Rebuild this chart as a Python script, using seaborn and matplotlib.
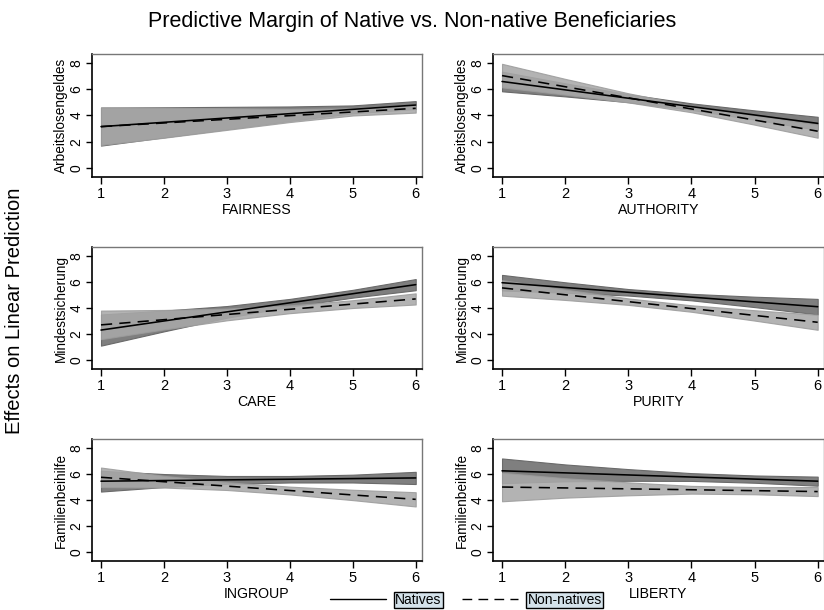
import numpy as np
import pandas as pd
import matplotlib
matplotlib.use('Agg')
import matplotlib.pyplot as plt
from matplotlib.lines import Line2D
import seaborn as sns

# ── Data ────────────────────────────────────────────────────────
x_vals = [1, 2, 3, 4, 5, 6]
panels = ['FAIRNESS', 'AUTHORITY', 'CARE', 'PURITY', 'INGROUP', 'LIBERTY']
outcomes = ['Arbeitslosengeldes', 'Arbeitslosengeldes',
            'Mindestsicherung', 'Mindestsicherung',
            'Familienbeihilfe', 'Familienbeihilfe']

# Natives: estimate, lower, upper
nat_fairness = [3.15, 3.48, 3.81, 4.14, 4.47, 4.80]
nat_fairness_lo = [1.70, 2.33, 2.96, 3.59, 4.17, 4.50]
nat_fairness_hi = [4.60, 4.63, 4.66, 4.69, 4.77, 5.10]
nat_authority = [6.60, 5.96, 5.32, 4.68, 4.04, 3.40]
nat_authority_lo = [5.85, 5.46, 5.02, 4.43, 3.69, 2.90]
nat_authority_hi = [7.35, 6.46, 5.62, 4.93, 4.39, 3.90]
nat_care = [2.30, 3.00, 3.70, 4.40, 5.10, 5.80]
nat_care_lo = [1.10, 2.20, 3.25, 4.10, 4.80, 5.37]
nat_care_hi = [3.50, 3.80, 4.15, 4.70, 5.40, 6.23]
nat_purity = [5.95, 5.58, 5.21, 4.84, 4.47, 4.10]
nat_purity_lo = [5.35, 5.18, 4.96, 4.59, 4.07, 3.50]
nat_purity_hi = [6.55, 5.98, 5.46, 5.09, 4.87, 4.70]
nat_ingroup = [5.45, 5.50, 5.55, 5.60, 5.65, 5.70]
nat_ingroup_lo = [4.65, 5.00, 5.25, 5.35, 5.35, 5.23]
nat_ingroup_hi = [6.25, 6.00, 5.85, 5.85, 5.95, 6.17]
nat_liberty = [6.25, 6.09, 5.93, 5.77, 5.61, 5.45]
nat_liberty_lo = [5.30, 5.44, 5.48, 5.47, 5.33, 5.10]
nat_liberty_hi = [7.20, 6.74, 6.38, 6.07, 5.89, 5.80]

# Non-natives: estimate, lower, upper
non_fairness = [3.15, 3.43, 3.71, 3.99, 4.27, 4.55]
non_fairness_lo = [1.75, 2.30, 2.90, 3.50, 4.00, 4.22]
non_fairness_hi = [4.62, 4.60, 4.55, 4.50, 4.55, 4.85]
non_authority = [7.05, 6.20, 5.35, 4.50, 3.65, 2.80]
non_authority_lo = [6.15, 5.60, 5.00, 4.25, 3.30, 2.30]
non_authority_hi = [7.95, 6.80, 5.70, 4.75, 4.00, 3.30]
non_care = [2.70, 3.10, 3.50, 3.90, 4.30, 4.70]
non_care_lo = [1.60, 2.35, 3.05, 3.60, 4.00, 4.27]
non_care_hi = [3.80, 3.85, 3.95, 4.20, 4.60, 5.13]
non_purity = [5.55, 5.02, 4.49, 3.96, 3.43, 2.90]
non_purity_lo = [4.95, 4.62, 4.24, 3.71, 3.03, 2.32]
non_purity_hi = [6.15, 5.42, 4.74, 4.21, 3.83, 3.48]
non_ingroup = [5.75, 5.41, 5.07, 4.73, 4.39, 4.05]
non_ingroup_lo = [5.00, 4.96, 4.77, 4.43, 3.99, 3.50]
non_ingroup_hi = [6.50, 5.86, 5.37, 5.03, 4.79, 4.60]
non_liberty = [5.00, 4.93, 4.86, 4.79, 4.72, 4.65]
non_liberty_lo = [3.90, 4.18, 4.36, 4.49, 4.44, 4.30]
non_liberty_hi = [6.10, 5.68, 5.36, 5.09, 5.00, 5.00]

natives = {
    'FAIRNESS': (nat_fairness, nat_fairness_lo, nat_fairness_hi),
    'AUTHORITY': (nat_authority, nat_authority_lo, nat_authority_hi),
    'CARE': (nat_care, nat_care_lo, nat_care_hi),
    'PURITY': (nat_purity, nat_purity_lo, nat_purity_hi),
    'INGROUP': (nat_ingroup, nat_ingroup_lo, nat_ingroup_hi),
    'LIBERTY': (nat_liberty, nat_liberty_lo, nat_liberty_hi),
}
nonnatives = {
    'FAIRNESS': (non_fairness, non_fairness_lo, non_fairness_hi),
    'AUTHORITY': (non_authority, non_authority_lo, non_authority_hi),
    'CARE': (non_care, non_care_lo, non_care_hi),
    'PURITY': (non_purity, non_purity_lo, non_purity_hi),
    'INGROUP': (non_ingroup, non_ingroup_lo, non_ingroup_hi),
    'LIBERTY': (non_liberty, non_liberty_lo, non_liberty_hi),
}

# ── Style ───────────────────────────────────────────────────────
sns.set_style('ticks')
plt.rcParams['font.family'] = ['Liberation Sans', 'DejaVu Sans']
plt.rcParams['text.color'] = 'black'
plt.rcParams['axes.labelcolor'] = 'black'
plt.rcParams['xtick.color'] = 'black'
plt.rcParams['ytick.color'] = 'black'

fig = plt.figure(figsize=(8.24, 6.10), dpi=100)
W, H = 824.0, 610.0

# axes boxes in pixel coords (left, top, right, bottom)
col_px = [(92, 422), (493, 824)]
row_px = [(54, 177), (247, 369), (439, 561)]

NAT_FILL = '#7f7f7f'
NON_FILL = '#a9a9a9'
DASH = (7, 4.5)

for i, panel in enumerate(panels):
    r, c = divmod(i, 2)
    l, rr = col_px[c]
    t, b = row_px[r]
    ax = fig.add_axes([l / W, 1 - b / H, (rr - l) / W, (b - t) / H])

    est_n, lo_n, hi_n = natives[panel]
    est_o, lo_o, hi_o = nonnatives[panel]

    ax.fill_between(x_vals, lo_n, hi_n, color=NAT_FILL,
                    edgecolor='#6a6a6a', lw=0.8, zorder=1)
    ax.fill_between(x_vals, lo_o, hi_o, color=NON_FILL, alpha=0.88,
                    edgecolor='#9c9c9c', lw=0.8, zorder=2)

    df = pd.DataFrame({
        'x': x_vals * 2,
        'y': list(est_n) + list(est_o),
        'group': ['Natives'] * 6 + ['Non-natives'] * 6,
    })
    sns.lineplot(data=df, x='x', y='y', style='group',
                 dashes={'Natives': '', 'Non-natives': DASH},
                 color='black', lw=1.15, legend=False, ax=ax, zorder=3)

    ax.set_xlim(0.857, 6.1)
    ax.set_ylim(-0.7, 8.7)
    ax.set_xticks(x_vals)
    ax.set_yticks([0, 2, 4, 6, 8])
    ax.tick_params(axis='x', direction='out', length=5, width=1,
                   labelsize=10.5, pad=2, color='black')
    ax.tick_params(axis='y', direction='out', length=4, width=1,
                   labelsize=10, pad=2, color='black')
    for lab in ax.get_yticklabels():
        lab.set_rotation(90)
        lab.set_va('center')

    ax.set_xlabel(panel, fontsize=10.2, labelpad=1.5)
    ax.set_ylabel(outcomes[i], fontsize=9.8, labelpad=1)

    for s in ['left', 'bottom']:
        ax.spines[s].set_color('black')
        ax.spines[s].set_linewidth(1.2)
    for s in ['top', 'right']:
        ax.spines[s].set_visible(True)
        ax.spines[s].set_color('#777777')
        ax.spines[s].set_linewidth(1.0)

fig.text(412 / W, 1 - 22 / H,
         'Predictive Margin of Native vs. Non-native Beneficiaries',
         ha='center', va='center', fontsize=15.5)
fig.text(15 / W, 1 - 311 / H, 'Effects on Linear Prediction',
         rotation=90, ha='center', va='center', fontsize=14.5)

# ── Legend (Stata-like, boxed labels) ───────────────────────────
handles = [Line2D([0], [0], color='black', lw=1.0),
           Line2D([0], [0], color='black', lw=1.0, dashes=DASH)]
leg = fig.legend(handles, ['Natives', 'Non-natives'], ncol=2,
                 loc='center', bbox_to_anchor=(466 / W, 1 - 600 / H),
                 frameon=False, fontsize=10, handlelength=4.0,
                 handletextpad=0.7, columnspacing=1.5,
                 borderpad=0.0, borderaxespad=0.0)
for txt in leg.get_texts():
    txt.set_bbox(dict(facecolor='#d4e2ea', edgecolor='black',
                      lw=1.0, pad=1.0))

plt.savefig('out.png', dpi=100)
plt.close()
